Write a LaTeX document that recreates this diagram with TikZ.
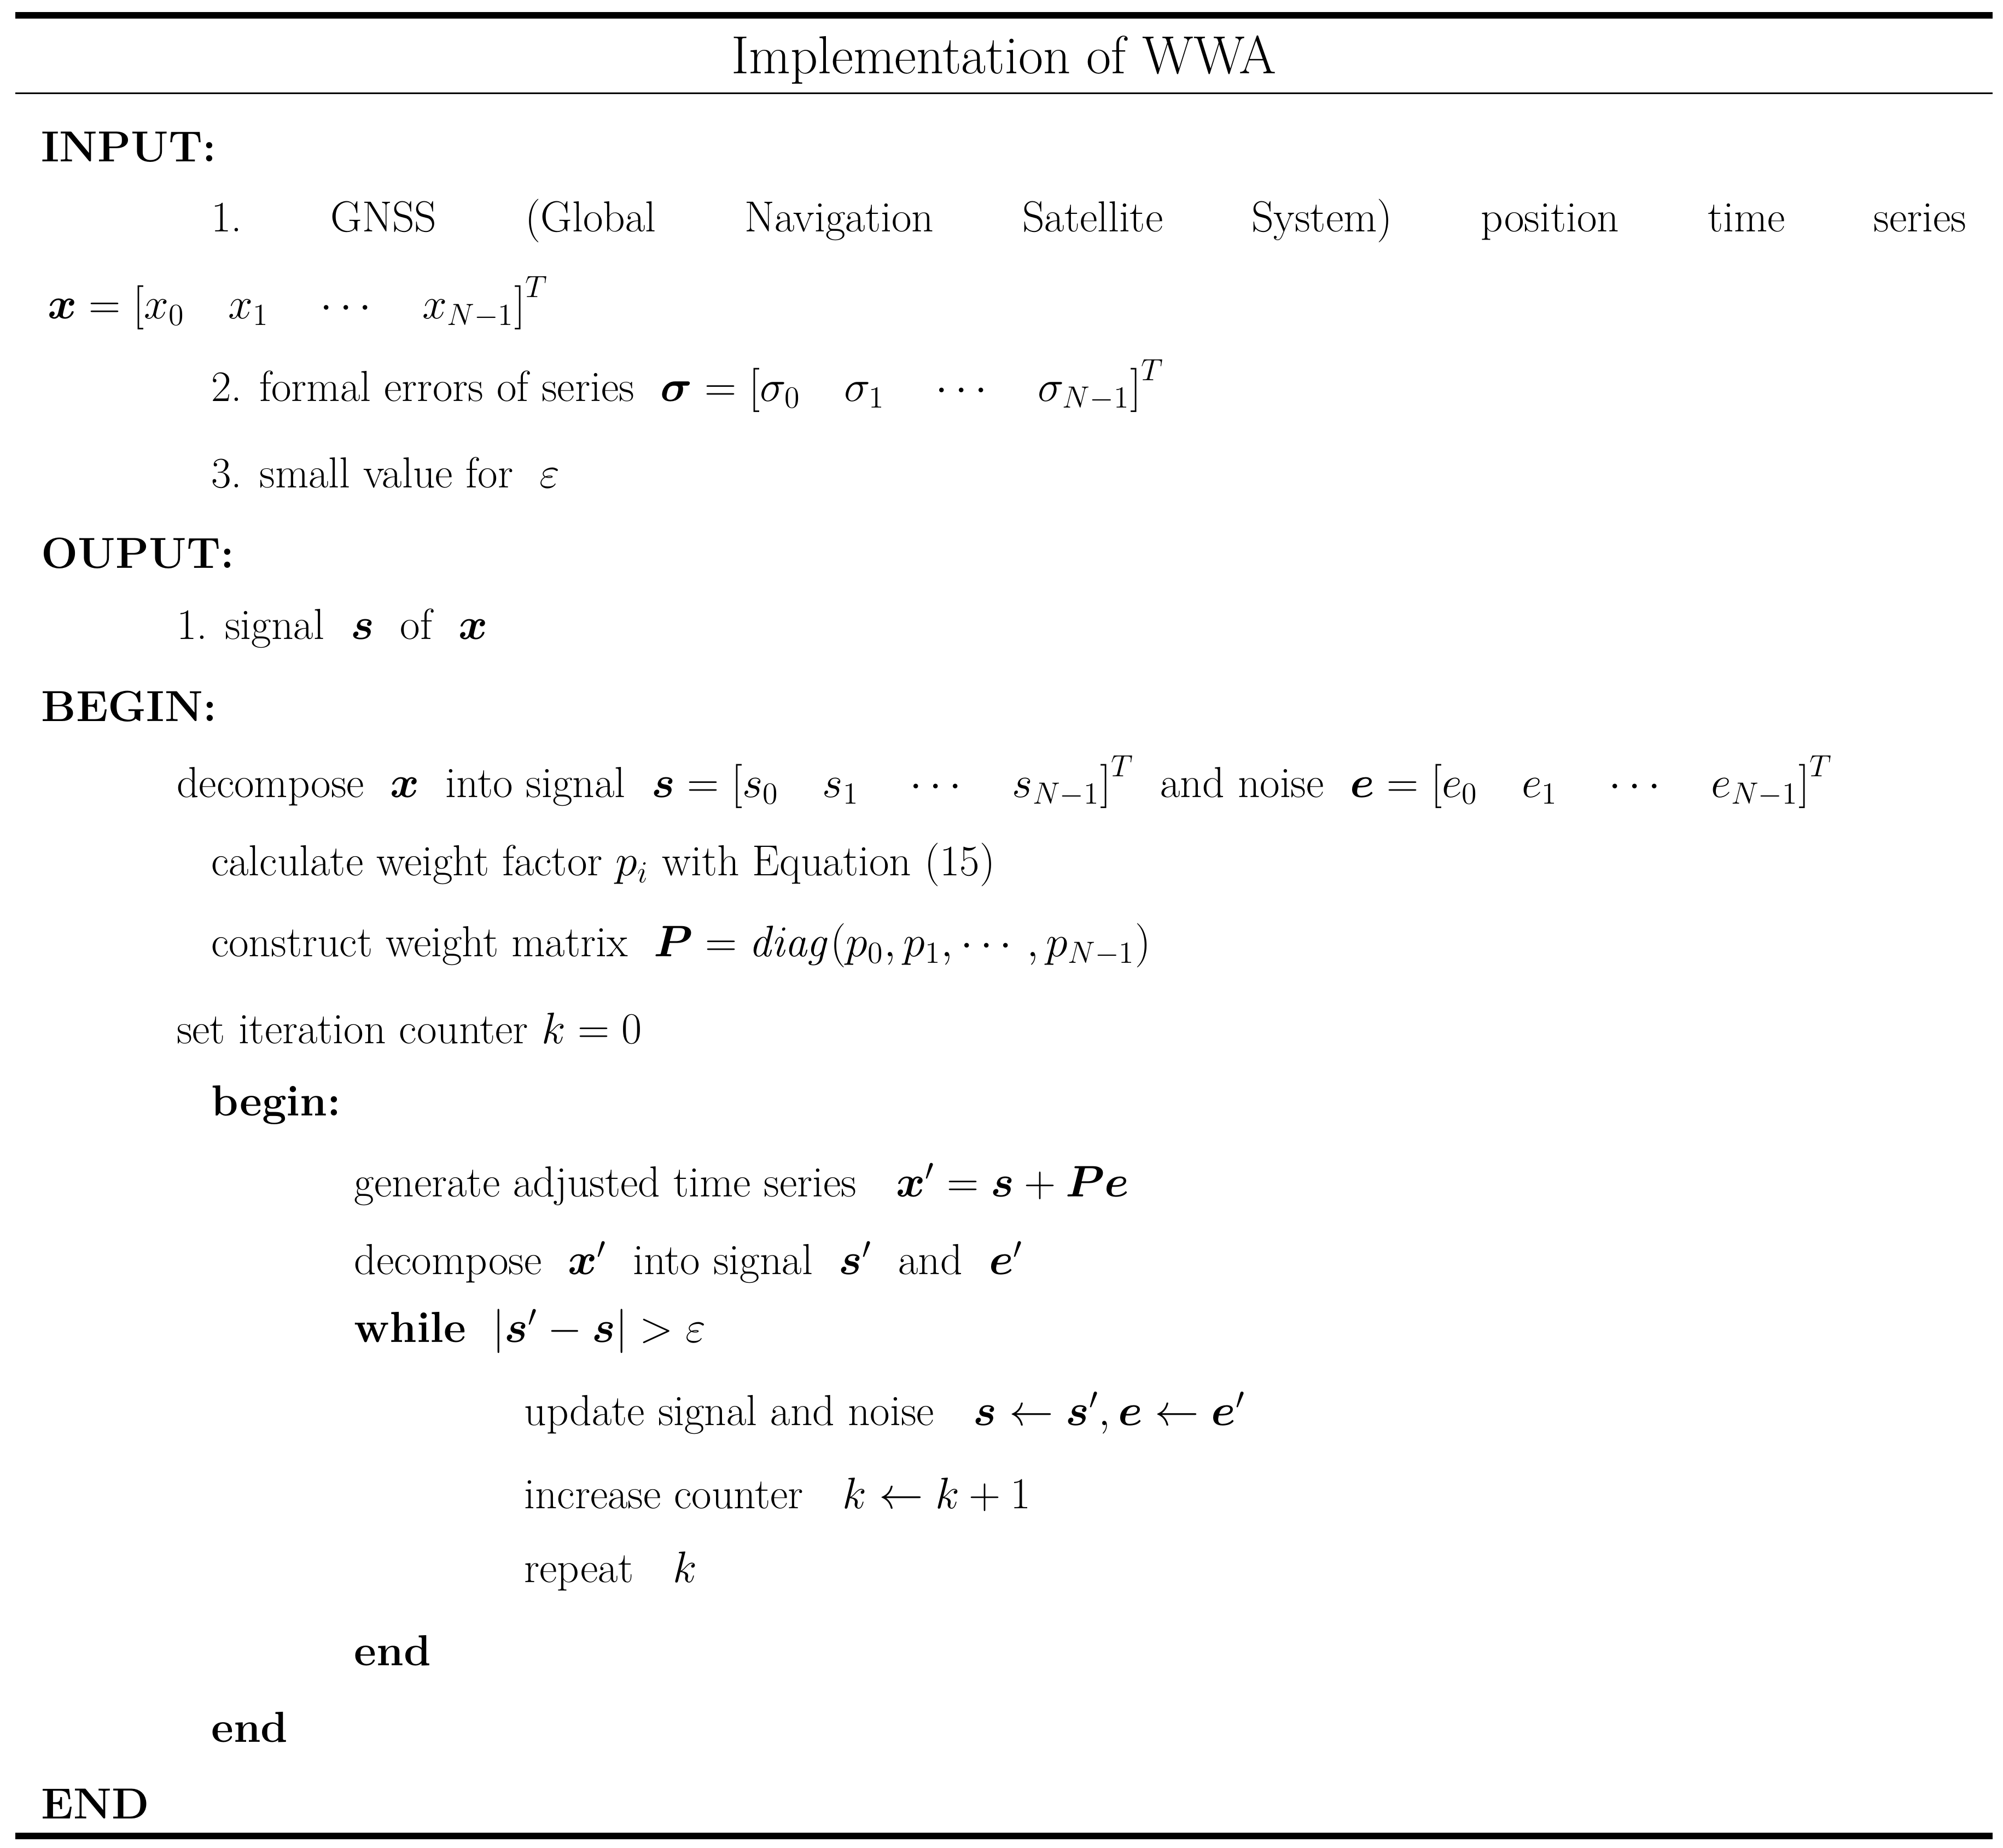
\documentclass[tikz,border=0pt]{standalone}
\usepackage{amsmath,bm}
\begin{document}
\begin{tikzpicture}[x=0.5pt,y=-0.5pt,
  txt/.style={anchor=west,inner sep=0pt,font=\fontsize{17}{20}\selectfont},
  bold/.style={txt,font=\fontsize{17}{20}\selectfont\bfseries}]
\useasboundingbox (0,0) rectangle (1568,1446);
\draw[line width=2.5pt] (12,12) -- (1560,12);
\draw[line width=0.6pt] (12,73) -- (1560,73);
\draw[line width=2.5pt] (12,1437) -- (1560,1437);
\node[inner sep=0pt,font=\fontsize{21}{25}\selectfont] (title) at (786,47) {Implementation of WWA};
\node[bold] (in) at (32,115) {INPUT:};
\node[txt] (i1) at (165,173) {\hbox to 687pt{1.\hfill GNSS\hfill (Global\hfill Navigation\hfill Satellite\hfill System)\hfill position\hfill time\hfill series}};
\node[txt] (i1b) at (37,237) {$\bm{x}=\left[x_0\quad x_1\quad\cdots\quad x_{N-1}\right]^T$};
\node[txt] (i2) at (165,302) {2. formal errors of series\ \ $\bm{\sigma}=\left[\sigma_0\quad \sigma_1\quad\cdots\quad \sigma_{N-1}\right]^T$};
\node[txt] (i3) at (165,370) {3. small value for\ \ $\varepsilon$};
\node[bold] (out) at (32,433) {OUPUT:};
\node[txt] (o1) at (138,492) {1. signal\ \ $\bm{s}$\ \ of\ \ $\bm{x}$};
\node[bold] (beg) at (32,553) {BEGIN:};
\node[txt] (l1) at (138,612) {decompose\ \ $\bm{x}$\ \ into signal\ \ $\bm{s}=\left[s_0\quad s_1\quad\cdots\quad s_{N-1}\right]^T$\ \ and noise\ \ $\bm{e}=\left[e_0\quad e_1\quad\cdots\quad e_{N-1}\right]^T$};
\node[txt] (l2) at (165,677) {calculate weight factor $p_i$ with Equation (15)};
\node[txt] (l3) at (165,740) {construct weight matrix\ \ $\bm{P}=\mathit{diag}(p_0,p_1,\cdots,p_{N-1})$};
\node[txt] (l4) at (138,805) {set iteration counter $k=0$};
\node[bold] (b2) at (165,865) {begin:};
\node[txt] (l5) at (277,927) {generate adjusted time series\ \ \ $\bm{x}'=\bm{s}+\bm{P}\bm{e}$};
\node[txt] (l6) at (277,988) {decompose\ \ $\bm{x}'$\ \ into signal\ \ $\bm{s}'$\ \ and\ \ $\bm{e}'$};
\node[txt] (l7) at (277,1042) {\textbf{while}\ \ $|\bm{s}'-\bm{s}|>\varepsilon$};
\node[txt] (l8) at (410,1106) {update signal and noise\ \ \ $\bm{s}\leftarrow\bm{s}',\bm{e}\leftarrow\bm{e}'$};
\node[txt] (l9) at (410,1170) {increase counter\ \ \ $k\leftarrow k+1$};
\node[txt] (l10) at (410,1230) {repeat\ \ \ $k$};
\node[bold] (e1) at (277,1292) {end};
\node[bold] (e2) at (165,1352) {end};
\node[bold] (e3) at (32,1412) {END};
\end{tikzpicture}
\end{document}
